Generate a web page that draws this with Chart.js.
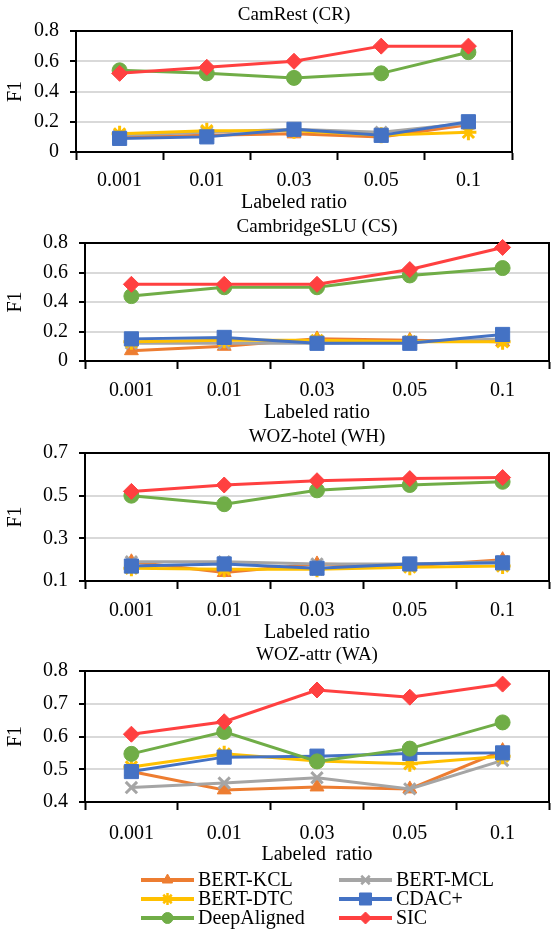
<!DOCTYPE html>
<html>
<head>
<meta charset="utf-8">
<script src="https://cdn.jsdelivr.net/npm/chart.js@4.4.0/dist/chart.umd.min.js"></script>
<style>
  body { margin: 0; background: #fff; }
  #wrap { position: relative; width: 560px; height: 935px; background: #fff; overflow: hidden; }
  #wrap canvas { position: absolute; left: 0; }
</style>
</head>
<body>
<div id="wrap">
  <canvas id="cr"></canvas>
  <canvas id="cs"></canvas>
  <canvas id="wh"></canvas>
  <canvas id="wa"></canvas>
  <canvas id="legend"></canvas>
</div>
<script>
// --- data ---
const ratios = ['0.001', '0.01', '0.03', '0.05', '0.1'];
const methods = ['BERT-KCL', 'BERT-MCL', 'BERT-DTC', 'CDAC+', 'DeepAligned', 'SIC'];

// CamRest (CR)
const crKCL = [0.10, 0.11, 0.12, 0.10, 0.18];
const crMCL = [0.11, 0.13, 0.15, 0.13, 0.19];
const crDTC = [0.12, 0.14, 0.14, 0.11, 0.13];
const crCDAC = [0.09, 0.10, 0.15, 0.11, 0.20];
const crDA = [0.54, 0.52, 0.49, 0.52, 0.66];
const crSIC = [0.52, 0.56, 0.60, 0.70, 0.70];
const crTicks = ['0', '0.2', '0.4', '0.6', '0.8'];

// CambridgeSLU (CS)
const csKCL = [0.07, 0.10, 0.15, 0.14, 0.13];
const csMCL = [0.12, 0.12, 0.12, 0.13, 0.15];
const csDTC = [0.13, 0.14, 0.14, 0.13, 0.13];
const csCDAC = [0.15, 0.16, 0.12, 0.12, 0.18];
const csDA = [0.44, 0.50, 0.50, 0.58, 0.63];
const csSIC = [0.52, 0.52, 0.52, 0.62, 0.77];
const csTicks = ['0', '0.2', '0.4', '0.6', '0.8'];

// WOZ-hotel (WH)
const whKCL = [0.19, 0.14, 0.18, 0.17, 0.20];
const whMCL = [0.19, 0.19, 0.18, 0.18, 0.19];
const whDTC = [0.16, 0.155, 0.155, 0.165, 0.17];
const whCDAC = [0.17, 0.18, 0.16, 0.18, 0.185];
const whDA = [0.50, 0.46, 0.525, 0.55, 0.565];
const whSIC = [0.52, 0.55, 0.57, 0.58, 0.585];
const whTicks = ['0.1', '0.3', '0.5', '0.7'];

// WOZ-attr (WA)
const waKCL = [0.493, 0.437, 0.446, 0.44, 0.557];
const waMCL = [0.444, 0.458, 0.474, 0.44, 0.527];
const waDTC = [0.507, 0.547, 0.525, 0.517, 0.54];
const waCDAC = [0.493, 0.537, 0.54, 0.548, 0.55];
const waDA = [0.547, 0.614, 0.524, 0.563, 0.643];
const waSIC = [0.607, 0.645, 0.742, 0.72, 0.76];
const waTicks = ['0.4', '0.5', '0.6', '0.7', '0.8'];

// --- styles ---
const colors = ['#ED7D31', '#A5A5A5', '#FFC000', '#4472C4', '#70AD47', '#FF4040'];
const markers = ['triangle', 'crossRot', 'star', 'rect', 'circle', 'rectRot'];
const radii = [8, 8, 8, 10, 7.5, 8];
const markerBorder = [1, 3, 3, 1, 1, 1];
const legendRadii = [6, 6, 6, 8.5, 5.5, 6];
const FONT = "'Liberation Serif', 'Times New Roman', serif";

// black box round the plot area
const frame = {
  id: 'frame',
  beforeDatasetsDraw(chart) {
    const { ctx, chartArea: a } = chart;
    ctx.save();
    ctx.strokeStyle = '#000';
    ctx.lineWidth = 2;
    ctx.strokeRect(a.left, a.top, a.right - a.left, a.bottom - a.top);
    ctx.restore();
  }
};

const panels = [
  { id: 'cr', title: 'CamRest (CR)', top: 0, h: 215, xh: 63, left: 76, right: 48, pad: 9,
    xTitle: 'Labeled ratio', ticks: crTicks, series: [crKCL, crMCL, crDTC, crCDAC, crDA, crSIC] },
  { id: 'cs', title: 'CambridgeSLU (CS)', top: 212, h: 213, xh: 64, left: 85, right: 1, pad: 10,
    xTitle: 'Labeled ratio', ticks: csTicks, series: [csKCL, csMCL, csDTC, csCDAC, csDA, csSIC] },
  { id: 'wh', title: 'WOZ-hotel (WH)', top: 422, h: 223, xh: 64, left: 85, right: 1, pad: 10,
    xTitle: 'Labeled ratio', ticks: whTicks, series: [whKCL, whMCL, whDTC, whCDAC, whDA, whSIC] },
  { id: 'wa', title: 'WOZ-attr (WA)', top: 640, h: 227, xh: 65, left: 85, right: 1, pad: 12,
    xTitle: 'Labeled  ratio', ticks: waTicks, series: [waKCL, waMCL, waDTC, waCDAC, waDA, waSIC] }
];

panels.forEach(p => {
  const cv = document.getElementById(p.id);
  cv.width = 560;
  cv.height = p.h;
  cv.style.top = p.top + 'px';
  const tickVals = p.ticks.map(Number);

  new Chart(cv.getContext('2d'), {
    type: 'line',
    data: {
      labels: ratios,
      datasets: p.series.map((d, i) => ({
        label: methods[i],
        data: d,
        borderColor: colors[i],
        backgroundColor: colors[i],
        pointBackgroundColor: colors[i],
        pointBorderColor: colors[i],
        pointStyle: markers[i],
        pointRadius: radii[i],
        pointBorderWidth: markerBorder[i],
        borderWidth: 3,
        tension: 0,
        clip: false,
        order: 5 - i
      }))
    },
    options: {
      responsive: false,
      animation: false,
      devicePixelRatio: 1,
      layout: { padding: { left: 0, right: p.right, top: 0, bottom: 0 } },
      plugins: {
        legend: { display: false },
        tooltip: { enabled: false },
        title: {
          display: true, text: p.title, color: '#000', fullSize: false,
          font: { family: FONT, size: 19, weight: 'normal' },
          padding: { top: 4, bottom: 4.2 }
        }
      },
      scales: {
        x: {
          offset: true,
          grid: { offset: true, drawOnChartArea: false, tickColor: '#000', tickLength: 8, tickWidth: 2 },
          border: { color: '#000', width: 2 },
          ticks: { color: '#000', font: { family: FONT, size: 20 }, padding: p.pad, maxRotation: 0 },
          title: { display: true, text: p.xTitle, color: '#000', font: { family: FONT, size: 20 }, padding: { top: 0, bottom: 0 } },
          afterFit: s => { s.height = p.xh; }
        },
        y: {
          min: tickVals[0],
          max: tickVals[tickVals.length - 1],
          afterBuildTicks: s => { s.ticks = tickVals.map(v => ({ value: v })); },
          ticks: { color: '#000', font: { family: FONT, size: 20 }, padding: 11, callback: (v, i) => p.ticks[i] },
          grid: { color: '#D9D9D9', lineWidth: 2, tickColor: '#000', tickLength: 6, tickWidth: 2 },
          border: { color: '#000', width: 2 },
          title: { display: true, text: 'F1', color: '#000', font: { family: FONT, size: 20 }, padding: { top: 4, bottom: 0 } },
          afterFit: s => { s.width = p.left; }
        }
      }
    },
    plugins: [frame]
  });
});

// --- legend: two columns, three rows ---
const lg = document.getElementById('legend');
lg.width = 560;
lg.height = 66;
lg.style.top = '869px';
const lctx = lg.getContext('2d');
const colX = [141, 339];
const rowY = [11, 30, 49];
methods.forEach((m, i) => {
  const x = colX[i % 2];
  const y = rowY[Math.floor(i / 2)];
  lctx.strokeStyle = colors[i];
  lctx.fillStyle = colors[i];
  lctx.lineWidth = 4;
  lctx.beginPath();
  lctx.moveTo(x, y);
  lctx.lineTo(x + 53, y);
  lctx.stroke();
  lctx.lineWidth = markerBorder[i] > 1 ? 2.5 : 1;
  Chart.helpers.drawPoint(lctx, { pointStyle: markers[i], radius: legendRadii[i], rotation: 0, borderWidth: lctx.lineWidth }, x + 26.5, y);
  lctx.fillStyle = '#000';
  lctx.font = '20px ' + FONT;
  lctx.textBaseline = 'middle';
  lctx.fillText(m, x + 57, y + 1);
});
</script>
</body>
</html>
